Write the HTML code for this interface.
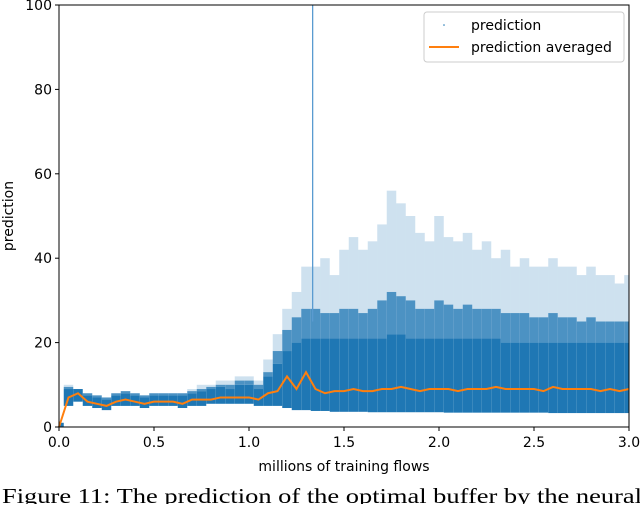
<!DOCTYPE html>
<html><head><meta charset="utf-8"><style>
body{margin:0;background:#fff;width:640px;height:504px;overflow:hidden}
text{font-family:"DejaVu Sans","Liberation Sans",sans-serif}
</style></head><body>
<svg id="chart" width="640" height="504">
<g id="plot"></g>
<rect x="59" y="5" width="570" height="422" fill="none" stroke="#000" stroke-width="1"/>
<g id="axes"></g>
<text x="344" y="471" font-size="14" text-anchor="middle">millions of training flows</text>
<text x="13" y="216" font-size="14" text-anchor="middle" transform="rotate(-90 13 216)">prediction</text>
<g>
<rect x="424" y="12" width="200" height="50" rx="3" fill="#fff" stroke="#ccc"/>
<circle cx="444" cy="25" r="0.8" fill="#1f77b4"/>
<text x="471" y="30" font-size="14">prediction</text>
<line x1="429" y1="47" x2="459" y2="47" stroke="#ff7f0e" stroke-width="2"/>
<text x="471" y="52" font-size="14">prediction averaged</text>
</g>
<text x="2" y="503" font-size="21" textLength="640" lengthAdjust="spacingAndGlyphs" style="font-family:'Liberation Serif',serif">Figure 11: The prediction of the optimal buffer by the neural</text>
</svg>
<script>
const xs=[0,0.05,0.1,0.15,0.2,0.25,0.3,0.35,0.4,0.45,0.5,0.55,0.6,0.65,0.7,0.75,0.8,0.85,0.9,0.95,1.0,1.05,1.1,1.15,1.2,1.25,1.3,1.35,1.4,1.45,1.5,1.55,1.6,1.65,1.7,1.75,1.8,1.85,1.9,1.95,2.0,2.05,2.1,2.15,2.2,2.25,2.3,2.35,2.4,2.45,2.5,2.55,2.6,2.65,2.7,2.75,2.8,2.85,2.9,2.95,3.0];
const avg=[0,7,8,6,5.5,5,6,6.5,6,5.5,6,6,6,5.5,6.5,6.5,6.5,7,7,7,7,6.5,8,8.5,12,9,13,9,8,8.5,8.5,9,8.5,8.5,9,9,9.5,9,8.5,9,9,9,8.5,9,9,9,9.5,9,9,9,9,8.5,9.5,9,9,9,9,8.5,9,8.5,9];
const lo=[0,5,6,5,4.5,4,5,5,5,4.5,5,5,5,4.5,5,5,5.5,5.5,5.5,5.5,5.5,5,5,5,4.5,4,4,3.8,3.8,3.6,3.6,3.6,3.6,3.5,3.5,3.5,3.5,3.5,3.5,3.5,3.5,3.4,3.4,3.4,3.4,3.4,3.4,3.4,3.4,3.4,3.4,3.4,3.3,3.3,3.3,3.3,3.3,3.3,3.3,3.3,3.3];
const hi=[1,9,9,7.5,7,6.5,7.5,8,7.5,7,7.5,7.5,7.5,7.5,8,8.5,9,9.5,9,10,10,9,12,15,18,20,21,21,21,21,21,21,21,21,21,22,22,21,21,21,21,21,21,21,21,21,21,20,20,20,20,20,20,20,20,20,20,20,20,20,20];
const mid=[1,9.5,9,8,7.5,7,8,8.5,8,7.5,8,8,8,8,8.5,9,9.5,10,10,11,11,10,13,18,23,26,28,28,27,27,28,28,27,28,30,32,31,30,28,28,30,29,28,29,28,28,28,27,27,27,26,26,27,26,26,25,26,25,25,25,25];
const peak=[1,10,9,8,7.5,7,8,8.5,8,7.5,8,8,8,8,9,10,10,11,11,12,12,11,16,22,28,32,38,38,40,36,42,45,42,44,48,56,53,50,46,44,50,45,44,46,42,44,40,42,38,40,38,38,40,38,38,36,38,36,36,34,36];
const spikeX=[1.335], spikeY=[100];
const X=v=>59+v*190, Y=v=>427-v*4.22;
const NS="http://www.w3.org/2000/svg";
const plot=document.getElementById('plot'), axes=document.getElementById('axes');
const bw=9.5;
function bar(i,top,bot,op,name){
  const x=Math.max(59,X(xs[i])-bw/2), w=Math.min(629,X(xs[i])+bw/2)-x;
  const r=document.createElementNS(NS,'rect');
  r.setAttribute('x',x);r.setAttribute('y',Y(top));r.setAttribute('width',w);r.setAttribute('height',Math.max(0,Y(bot)-Y(top)));
  r.setAttribute('fill','#1f77b4');r.setAttribute('opacity',op);
  
  
  plot.appendChild(r);
}
for(let i=0;i<xs.length;i++){
  bar(i,peak[i],mid[i],0.22,'prediction-sparse-dots');
  bar(i,mid[i],hi[i],0.8,'prediction-mid-dots');
  bar(i,hi[i],lo[i],1,'prediction-dense-band');
}
spikeX.forEach((v,i)=>{
  const l=document.createElementNS(NS,'line');
  l.setAttribute('x1',X(v));l.setAttribute('x2',X(v));l.setAttribute('y1',Y(spikeY[i]));l.setAttribute('y2',Y(25));
  l.setAttribute('stroke','#5a9bd0');l.setAttribute('stroke-width','1.3');
  
  
  plot.appendChild(l);
});
const pl=document.createElementNS(NS,'polyline');
pl.setAttribute('points',xs.map((v,i)=>X(v)+','+Y(avg[i])).join(' '));
pl.setAttribute('fill','none');pl.setAttribute('stroke','#ff7f0e');pl.setAttribute('stroke-width','2');


plot.appendChild(pl);
const xt=[0,0.5,1,1.5,2,2.5,3], xl=["0.0","0.5","1.0","1.5","2.0","2.5","3.0"];
const yt=[0,20,40,60,80,100];
xt.forEach((v,i)=>{
  const l=document.createElementNS(NS,'line');
  l.setAttribute('x1',X(v));l.setAttribute('x2',X(v));l.setAttribute('y1',427);l.setAttribute('y2',431);l.setAttribute('stroke','#000');
  
  
  axes.appendChild(l);
  const t=document.createElementNS(NS,'text');
  t.setAttribute('x',X(v));t.setAttribute('y',447);t.setAttribute('font-size','14');t.setAttribute('text-anchor','middle');t.textContent=xl[i];
  
  
  axes.appendChild(t);
});
yt.forEach(v=>{
  const l=document.createElementNS(NS,'line');
  l.setAttribute('x1',55);l.setAttribute('x2',59);l.setAttribute('y1',Y(v));l.setAttribute('y2',Y(v));l.setAttribute('stroke','#000');
  
  
  axes.appendChild(l);
  const t=document.createElementNS(NS,'text');
  t.setAttribute('x',52);t.setAttribute('y',Y(v)+5);t.setAttribute('font-size','14');t.setAttribute('text-anchor','end');t.textContent=v;
  
  
  axes.appendChild(t);
});
</script>
</body></html>
